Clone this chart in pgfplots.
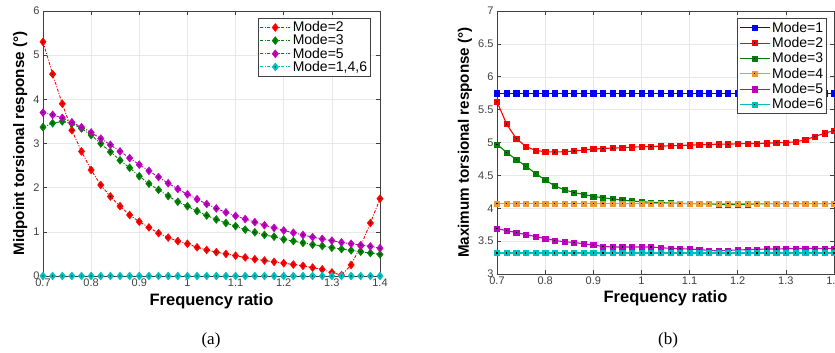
\documentclass[border=0pt]{standalone}
\usepackage{pgfplots}
\usepackage{pgfplotstable}
\pgfplotsset{compat=1.18}
\usepackage{fontspec}
\setmainfont{Liberation Sans}
\newfontfamily\seriffont{Liberation Serif}
\definecolor{mred}{rgb}{1,0,0}
\definecolor{mgreen}{rgb}{0,0.5,0}
\definecolor{mpurple}{rgb}{0.75,0,0.75}
\definecolor{mcyan}{rgb}{0,0.75,0.75}
\definecolor{mblue}{rgb}{0,0,1}
\definecolor{morange}{rgb}{0.93,0.6,0.2}
\definecolor{axgray}{rgb}{0.25,0.25,0.25}

\pgfdeclareplotmark{ddiam}{%
  \pgfpathmoveto{\pgfqpoint{0pt}{1.25\pgfplotmarksize}}%
  \pgfpathlineto{\pgfqpoint{\pgfplotmarksize}{0pt}}%
  \pgfpathlineto{\pgfqpoint{0pt}{-1.25\pgfplotmarksize}}%
  \pgfpathlineto{\pgfqpoint{-\pgfplotmarksize}{0pt}}%
  \pgfpathclose
  \pgfusepathqfillstroke
  \begin{pgfscope}%
  \pgfsetfillcolor{black}%
  \pgfpathcircle{\pgfpointorigin}{0.65pt}%
  \pgfusepathqfill
  \end{pgfscope}%
}
\pgfdeclareplotmark{dsq}{%
  \pgfpathrectangle{\pgfqpoint{-\pgfplotmarksize}{-\pgfplotmarksize}}{\pgfqpoint{2\pgfplotmarksize}{2\pgfplotmarksize}}%
  \pgfusepathqfillstroke
  \begin{pgfscope}%
  \pgfsetfillcolor{black}%
  \pgfpathrectangle{\pgfqpoint{-0.6pt}{-0.6pt}}{\pgfqpoint{1.2pt}{1.2pt}}%
  \pgfusepathqfill
  \end{pgfscope}%
}

\pgfplotstableread{
x m146 m2 m3 m5
0.70 0 5.30 3.37 3.70
0.72 0 4.57 3.46 3.65
0.74 0 3.90 3.50 3.58
0.76 0 3.30 3.45 3.48
0.78 0 2.82 3.34 3.37
0.80 0 2.40 3.19 3.25
0.82 0 2.06 3.00 3.11
0.84 0 1.80 2.81 2.97
0.86 0 1.58 2.62 2.82
0.88 0 1.38 2.45 2.67
0.90 0 1.23 2.26 2.52
0.92 0 1.10 2.09 2.38
0.94 0 0.97 1.95 2.24
0.96 0 0.87 1.81 2.10
0.98 0 0.79 1.68 1.97
1.00 0 0.73 1.58 1.85
1.02 0 0.65 1.47 1.74
1.04 0 0.59 1.37 1.63
1.06 0 0.54 1.28 1.53
1.08 0 0.50 1.20 1.44
1.10 0 0.46 1.13 1.36
1.12 0 0.42 1.05 1.29
1.14 0 0.38 0.99 1.22
1.16 0 0.35 0.93 1.15
1.18 0 0.32 0.89 1.09
1.20 0 0.29 0.83 1.03
1.22 0 0.26 0.79 0.98
1.24 0 0.23 0.75 0.93
1.26 0 0.19 0.71 0.88
1.28 0 0.15 0.68 0.84
1.30 0 0.08 0.64 0.80
1.32 0 0.02 0.61 0.76
1.34 0 0.25 0.58 0.73
1.36 0 0.68 0.55 0.70
1.38 0 1.20 0.52 0.67
1.40 0 1.75 0.49 0.63
}\tabA

\pgfplotstableread{
x m1 m2 m3 m4 m5 m6
0.70 5.75 5.62 4.97 4.07 3.69 3.32
0.72 5.75 5.28 4.85 4.07 3.66 3.32
0.74 5.75 5.06 4.74 4.07 3.63 3.32
0.76 5.75 4.94 4.64 4.07 3.60 3.32
0.78 5.75 4.88 4.53 4.07 3.57 3.32
0.80 5.75 4.86 4.43 4.07 3.54 3.32
0.82 5.75 4.855 4.34 4.07 3.51 3.32
0.84 5.75 4.86 4.28 4.07 3.49 3.32
0.86 5.75 4.87 4.24 4.07 3.48 3.32
0.88 5.75 4.885 4.21 4.07 3.46 3.32
0.90 5.75 4.90 4.18 4.07 3.44 3.32
0.92 5.75 4.91 4.16 4.07 3.42 3.32
0.94 5.75 4.915 4.14 4.07 3.41 3.32
0.96 5.75 4.92 4.125 4.07 3.41 3.32
0.98 5.75 4.93 4.11 4.07 3.41 3.32
1.00 5.75 4.935 4.10 4.07 3.41 3.32
1.02 5.75 4.94 4.09 4.07 3.41 3.32
1.04 5.75 4.945 4.085 4.07 3.40 3.32
1.06 5.75 4.95 4.08 4.07 3.39 3.32
1.08 5.75 4.955 4.075 4.07 3.385 3.32
1.10 5.75 4.96 4.07 4.07 3.38 3.32
1.12 5.75 4.965 4.07 4.07 3.37 3.32
1.14 5.75 4.97 4.065 4.07 3.36 3.32
1.16 5.75 4.975 4.06 4.07 3.35 3.32
1.18 5.75 4.975 4.055 4.07 3.36 3.32
1.20 5.75 4.98 4.055 4.07 3.365 3.32
1.22 5.75 4.985 4.06 4.07 3.37 3.32
1.24 5.75 4.985 4.065 4.07 3.375 3.32
1.26 5.75 4.99 4.07 4.07 3.38 3.32
1.28 5.75 4.995 4.07 4.07 3.38 3.32
1.30 5.75 5.00 4.07 4.07 3.385 3.32
1.32 5.75 5.01 4.07 4.07 3.385 3.32
1.34 5.75 5.04 4.07 4.07 3.39 3.32
1.36 5.75 5.09 4.07 4.07 3.39 3.32
1.38 5.75 5.14 4.07 4.07 3.39 3.32
1.40 5.75 5.18 4.07 4.07 3.39 3.32
}\tabB

\pgfplotsset{
  mstyle/.style={
    scale only axis,
    anchor=south west,
    width=337pt,
    xmin=0.7, xmax=1.4,
    xtick={0.7,0.8,...,1.4},
    xticklabels={0.7,0.8,0.9,1,1.1,1.2,1.3,1.4},
    grid=major,
    major grid style={draw=black!9, line width=0.5pt},
    axis line style={draw=axgray, line width=0.6pt},
    tick style={draw=axgray, line width=0.6pt},
    tick align=inside,
    major tick length=4pt,
    ticklabel style={font=\fontsize{11}{13}\selectfont, text=axgray},
    xticklabel style={yshift=1pt},
    /pgf/number format/assume math mode=true,
    xlabel={Frequency ratio},
    xlabel style={font=\bfseries\fontsize{16.5}{19}\selectfont, at={(axis description cs:0.5,-0.094)}, anchor=center},
    ylabel style={font=\bfseries\fontsize{15.2}{17}\selectfont, anchor=center},
    legend style={font=\fontsize{14}{16}\selectfont, draw=axgray, line width=0.6pt, fill=white, inner sep=1.5pt, row sep=-2.5pt, cells={anchor=west}},
    legend cell align=left,
    legend image code/.code={\draw[mark repeat=2,mark phase=2,##1] plot coordinates {(0pt,0pt)(15pt,0pt)(30pt,0pt)};},
  },
  lA/.style={#1, line width=0.9pt, dash pattern=on 3pt off 1.5pt on 1pt off 1.5pt, mark=ddiam, mark size=3.2pt, mark options={solid, fill=#1, draw=#1, line width=0.4pt}},
  lB/.style={#1, line width=1.1pt, solid, mark=dsq, mark size=2.6pt, mark options={solid, fill=#1, draw=#1, line width=0.4pt}},
}

\begin{document}
\begin{tikzpicture}[x=1pt,y=1pt]
\begin{axis}[mstyle, at={(43pt,77pt)}, height=265pt,
  ymin=0, ymax=6, ytick={0,1,...,6},
  ylabel={Midpoint torsional response (°)},
  ylabel style={at={(axis description cs:-0.068,0.5)}},
  legend style={at={(axis description cs:0.973,0.974)}, anchor=north east}]
\addplot[lA=mred] table[x=x,y=m2] {\tabA};
\addlegendentry{Mode=2}
\addplot[lA=mgreen] table[x=x,y=m3] {\tabA};
\addlegendentry{Mode=3}
\addplot[lA=mpurple] table[x=x,y=m5] {\tabA};
\addlegendentry{Mode=5}
\addplot[lA=mcyan] table[x=x,y=m146] {\tabA};
\addlegendentry{Mode=1,4,6}
\end{axis}
\begin{axis}[mstyle, at={(497pt,79pt)}, height=263pt,
  ymin=3, ymax=7, ytick={3,3.5,...,7},
  yticklabels={3,3.5,4,4.5,5,5.5,6,6.5,7},
  ylabel={Maximum torsional response (°)},
  ylabel style={at={(axis description cs:-0.095,0.5)}},
  legend style={at={(axis description cs:0.979,0.973)}, anchor=north east, row sep=-0.3pt}]
\addplot[lB=mblue] table[x=x,y=m1] {\tabB};
\addlegendentry{Mode=1}
\addplot[lB=mred] table[x=x,y=m2] {\tabB};
\addlegendentry{Mode=2}
\addplot[lB=mgreen] table[x=x,y=m3] {\tabB};
\addlegendentry{Mode=3}
\addplot[lB=morange] table[x=x,y=m4] {\tabB};
\addlegendentry{Mode=4}
\addplot[lB=mpurple] table[x=x,y=m5] {\tabB};
\addlegendentry{Mode=5}
\addplot[lB=mcyan] table[x=x,y=m6] {\tabB};
\addlegendentry{Mode=6}
\end{axis}
\node[font=\seriffont\fontsize{17}{19}\selectfont] at (211pt,13pt) {(a)};
\node[font=\seriffont\fontsize{17}{19}\selectfont] at (668pt,13pt) {(b)};
\pgfresetboundingbox
\useasboundingbox (0pt,0pt) rectangle (835pt,353pt);
\end{tikzpicture}
\end{document}
